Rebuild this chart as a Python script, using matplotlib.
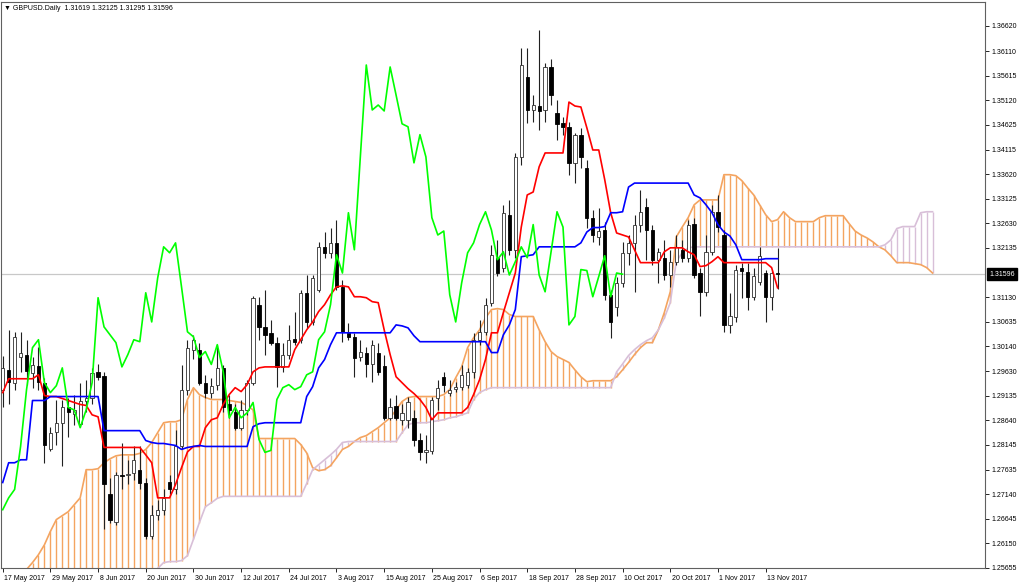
import matplotlib
matplotlib.use("Agg")
import matplotlib.pyplot as plt
import matplotlib.transforms as mtrans
import numpy as np

plt.rcParams['font.family'] = ['Liberation Sans', 'DejaVu Sans']

# ---------------- data ----------------
opens = [1.2926, 1.2966, 1.2940, 1.2993, 1.2997, 1.2960, 1.2973, 1.2940, 1.2805, 1.2841,
         1.2859, 1.2890, 1.2877, 1.2857, 1.2902, 1.2910, 1.2962, 1.2954, 1.2714, 1.2659,
         1.2754, 1.2754, 1.2758, 1.2764, 1.2738, 1.2629, 1.2673, 1.2683, 1.2740, 1.2724,
         1.2811, 1.2926, 1.3007, 1.3007, 1.2940, 1.2920, 1.2936, 1.2970, 1.2896, 1.2881,
         1.2849, 1.2885, 1.2940, 1.3098, 1.3053, 1.3041, 1.3021, 1.2972, 1.2997, 1.3029,
         1.3027, 1.3122, 1.3063, 1.3128, 1.3215, 1.3203, 1.3223, 1.3134, 1.3041, 1.3033,
         1.2993, 1.3001, 1.2977, 1.3001, 1.2973, 1.2869, 1.2892, 1.2865, 1.2865, 1.2869,
         1.2825, 1.2799, 1.2801, 1.2910, 1.2952, 1.2920, 1.2928, 1.2932, 1.2936, 1.2962,
         1.3027, 1.3043, 1.3102, 1.3193, 1.3173, 1.3280, 1.3209, 1.3397, 1.3559, 1.3492,
         1.3500, 1.3492, 1.3579, 1.3486, 1.3466, 1.3458, 1.3385, 1.3442, 1.3375, 1.3274,
         1.3235, 1.3249, 1.3118, 1.3094, 1.3142, 1.3203, 1.3223, 1.3260, 1.3296, 1.3249,
         1.3189, 1.3193, 1.3158, 1.3185, 1.3209, 1.3193, 1.3262, 1.3162, 1.3124, 1.3205,
         1.3286, 1.3239, 1.3057, 1.3072, 1.3173, 1.3165, 1.3114, 1.3144, 1.3162, 1.3114,
         1.31619]
highs = [1.2995, 1.3047, 1.3043, 1.3043, 1.3027, 1.2993, 1.3013, 1.2950, 1.2851, 1.2906,
         1.2906, 1.2910, 1.2916, 1.2940, 1.2946, 1.2970, 1.2978, 1.2962, 1.2748, 1.2760,
         1.2818, 1.2784, 1.2811, 1.2811, 1.2748, 1.2693, 1.2703, 1.2724, 1.2754, 1.2845,
         1.2976, 1.3027, 1.3037, 1.3021, 1.2956, 1.2950, 1.3017, 1.2976, 1.2916, 1.2896,
         1.2906, 1.2946, 1.3116, 1.3114, 1.3128, 1.3067, 1.3033, 1.3021, 1.3057, 1.3084,
         1.3128, 1.3158, 1.3158, 1.3225, 1.3245, 1.3253, 1.3270, 1.3148, 1.3061, 1.3041,
         1.3027, 1.3013, 1.3027, 1.3021, 1.2997, 1.2910, 1.2916, 1.2896, 1.2912, 1.2885,
         1.2839, 1.2835, 1.2912, 1.2946, 1.2962, 1.2946, 1.2942, 1.2976, 1.2970, 1.3041,
         1.3067, 1.3112, 1.3219, 1.3229, 1.3300, 1.3310, 1.3405, 1.3617, 1.3617, 1.3522,
         1.3654, 1.3587, 1.3595, 1.3512, 1.3478, 1.3468, 1.3446, 1.3456, 1.3391, 1.3290,
         1.3294, 1.3266, 1.3128, 1.3154, 1.3225, 1.3239, 1.3280, 1.3330, 1.3314, 1.3259,
         1.3213, 1.3229, 1.3209, 1.3239, 1.3229, 1.3270, 1.3274, 1.3172, 1.3239, 1.3300,
         1.3320, 1.3249, 1.3122, 1.3179, 1.3183, 1.3183, 1.3173, 1.3215, 1.3169, 1.3169,
         1.32125]
lows = [1.2890, 1.2896, 1.2926, 1.2962, 1.2936, 1.2930, 1.2926, 1.2778, 1.2801, 1.2813,
        1.2772, 1.2831, 1.2855, 1.2851, 1.2881, 1.2896, 1.2946, 1.2643, 1.2657, 1.2653,
        1.2724, 1.2734, 1.2744, 1.2724, 1.2623, 1.2623, 1.2663, 1.2673, 1.2714, 1.2714,
        1.2805, 1.2916, 1.2987, 1.2936, 1.2910, 1.2910, 1.2926, 1.2881, 1.2869, 1.2845,
        1.2845, 1.2875, 1.2936, 1.3027, 1.2997, 1.3017, 1.2932, 1.2962, 1.2987, 1.3017,
        1.3021, 1.3051, 1.3057, 1.3124, 1.3193, 1.3193, 1.3128, 1.3023, 1.3027, 1.2952,
        1.2983, 1.2952, 1.2942, 1.2956, 1.2865, 1.2865, 1.2865, 1.2855, 1.2849, 1.2811,
        1.2784, 1.2778, 1.2795, 1.2885, 1.2922, 1.2914, 1.2922, 1.2926, 1.2930, 1.2950,
        1.3017, 1.3037, 1.3096, 1.3156, 1.3165, 1.3199, 1.3193, 1.3381, 1.3466, 1.3468,
        1.3452, 1.3468, 1.3502, 1.3431, 1.3442, 1.3361, 1.3345, 1.3375, 1.3253, 1.3225,
        1.3219, 1.3108, 1.3031, 1.3074, 1.3134, 1.3179, 1.3124, 1.3245, 1.3189, 1.3179,
        1.3142, 1.3148, 1.3134, 1.3179, 1.3185, 1.3185, 1.3152, 1.3074, 1.3116, 1.3199,
        1.3245, 1.3043, 1.3041, 1.3063, 1.3112, 1.3088, 1.3108, 1.3138, 1.3063, 1.3088,
        1.31295]
closes = [1.2970, 1.2942, 1.3033, 1.3001, 1.2964, 1.2975, 1.2942, 1.2813, 1.2839, 1.2859,
          1.2890, 1.2881, 1.2885, 1.2902, 1.2910, 1.2960, 1.2952, 1.2734, 1.2663, 1.2754,
          1.2752, 1.2756, 1.2784, 1.2738, 1.2629, 1.2673, 1.2683, 1.2707, 1.2724, 1.2811,
          1.2926, 1.3011, 1.3027, 1.2940, 1.2920, 1.2934, 1.2970, 1.2890, 1.2885, 1.2849,
          1.2885, 1.2940, 1.3112, 1.3053, 1.3037, 1.3021, 1.2972, 1.2997, 1.3027, 1.3023,
          1.3122, 1.3063, 1.3152, 1.3215, 1.3203, 1.3223, 1.3134, 1.3043, 1.3033, 1.2991,
          1.3003, 1.2977, 1.3017, 1.2962, 1.2869, 1.2890, 1.2869, 1.2879, 1.2900, 1.2825,
          1.2799, 1.2803, 1.2906, 1.2930, 1.2936, 1.2926, 1.2932, 1.2956, 1.2962, 1.3027,
          1.3043, 1.3098, 1.3199, 1.3162, 1.3284, 1.3209, 1.3397, 1.3583, 1.3492, 1.3502,
          1.3490, 1.3579, 1.3522, 1.3464, 1.3458, 1.3385, 1.3442, 1.3397, 1.3274, 1.3239,
          1.3247, 1.3118, 1.3063, 1.3142, 1.3203, 1.3223, 1.3260, 1.3286, 1.3249, 1.3189,
          1.3205, 1.3158, 1.3185, 1.3215, 1.3193, 1.3260, 1.3158, 1.3124, 1.3205, 1.3286,
          1.3255, 1.3057, 1.3074, 1.3169, 1.3167, 1.3114, 1.3155, 1.3197, 1.3114, 1.3162,
          1.31596]

tenkan = [1.2920, 1.2948, 1.2948, 1.2948, 1.2948, 1.2948, 1.2956, 1.2914, 1.2912, 1.2912,
          1.2908, 1.2904, 1.2900, 1.2896, 1.2894, 1.2875, 1.2871, 1.2809, 1.2809, 1.2809,
          1.2809, 1.2809, 1.2809, 1.2809, 1.2794, 1.2778, 1.2707, 1.2707, 1.2707, 1.2734,
          1.2768, 1.2800, 1.2811, 1.2811, 1.2849, 1.2865, 1.2869, 1.2896, 1.2916, 1.2930,
          1.2922, 1.2936, 1.2962, 1.2970, 1.2972, 1.2972, 1.2972, 1.2972, 1.2972, 1.3007,
          1.3027, 1.3047, 1.3063, 1.3084, 1.3098, 1.3118, 1.3134, 1.3136, 1.3134, 1.3114,
          1.3114, 1.3112, 1.3104, 1.3102, 1.3047, 1.2997, 1.2952, 1.2940, 1.2928, 1.2918,
          1.2906, 1.2890, 1.2865, 1.2879, 1.2879, 1.2879, 1.2879, 1.2879, 1.2890, 1.2916,
          1.2946, 1.2987, 1.3041, 1.3041, 1.3082, 1.3122, 1.3162, 1.3255, 1.3320, 1.3326,
          1.3377, 1.3405, 1.3405, 1.3405, 1.3405, 1.3508, 1.3500, 1.3498, 1.3456, 1.3411,
          1.3411, 1.3351, 1.3284, 1.3243, 1.3239, 1.3235, 1.3209, 1.3183, 1.3183, 1.3183,
          1.3183, 1.3205, 1.3213, 1.3213, 1.3213, 1.3205, 1.3199, 1.3175, 1.3177, 1.3185,
          1.3195, 1.3183, 1.3183, 1.3183, 1.3183, 1.3183, 1.3183, 1.3183, 1.3183, 1.3173,
          1.3132]
kijun = [1.2738, 1.2778, 1.2778, 1.2784, 1.2784, 1.2904, 1.2904, 1.2904, 1.2912, 1.2912,
         1.2912, 1.2912, 1.2912, 1.2912, 1.2912, 1.2912, 1.2912, 1.2843, 1.2843, 1.2843,
         1.2843, 1.2843, 1.2843, 1.2843, 1.2823, 1.2819, 1.2817, 1.2817, 1.2815, 1.2813,
         1.2805, 1.2809, 1.2811, 1.2813, 1.2811, 1.2811, 1.2811, 1.2811, 1.2811, 1.2811,
         1.2811, 1.2811, 1.2851, 1.2857, 1.2859, 1.2859, 1.2859, 1.2859, 1.2859, 1.2859,
         1.2859, 1.2912, 1.2932, 1.2970, 1.2987, 1.3017, 1.3041, 1.3041, 1.3041, 1.3041,
         1.3041, 1.3041, 1.3041, 1.3041, 1.3041, 1.3041, 1.3057, 1.3055, 1.3051, 1.3035,
         1.3023, 1.3023, 1.3023, 1.3023, 1.3023, 1.3023, 1.3023, 1.3023, 1.3023, 1.3023,
         1.3023, 1.3023, 1.3001, 1.3001, 1.3037, 1.3057, 1.3088, 1.3195, 1.3197, 1.3199,
         1.3215, 1.3215, 1.3215, 1.3215, 1.3215, 1.3215, 1.3215, 1.3223, 1.3245, 1.3254,
         1.3254, 1.3256, 1.3284, 1.3284, 1.3286, 1.3336, 1.3344, 1.3344, 1.3344, 1.3344,
         1.3344, 1.3344, 1.3344, 1.3344, 1.3344, 1.3344, 1.3320, 1.3314, 1.3300, 1.3284,
         1.3260, 1.3245, 1.3237, 1.3219, 1.3189, 1.3189, 1.3189, 1.3189, 1.3191, 1.3191,
         1.3191]
senkou_a = [1.2501, 1.2511, 1.2526, 1.2542, 1.2562, 1.2576, 1.2592, 1.2612, 1.2639, 1.2663,
            1.2671, 1.2679, 1.2693, 1.2707, 1.2764, 1.2764, 1.2766, 1.2778, 1.2786, 1.2792,
            1.2794, 1.2794, 1.2794, 1.2797, 1.2805, 1.2819, 1.2839, 1.2859, 1.2861, 1.2861,
            1.2865, 1.2906, 1.2930, 1.2916, 1.2910, 1.2906, 1.2906, 1.2906, 1.2904, 1.2902,
            1.2900, 1.2894, 1.2885, 1.2827, 1.2827, 1.2827, 1.2827, 1.2827, 1.2827, 1.2827,
            1.2815, 1.2798, 1.2768, 1.2762, 1.2764, 1.2772, 1.2788, 1.2805, 1.2811, 1.2821,
            1.2829, 1.2833, 1.2841, 1.2849, 1.2859, 1.2869, 1.2885, 1.2902, 1.2910, 1.2912,
            1.2912, 1.2912, 1.2912, 1.2912, 1.2916, 1.2926, 1.2950, 1.2972, 1.3011, 1.3031,
            1.3047, 1.3071, 1.3088, 1.3090, 1.3088, 1.3078, 1.3074, 1.3074, 1.3074, 1.3074,
            1.3047, 1.3023, 1.3003, 1.2993, 1.2987, 1.2981, 1.2966, 1.2952, 1.2942, 1.2944,
            1.2944, 1.2944, 1.2944, 1.2952, 1.2966, 1.2981, 1.2997, 1.3011, 1.3021, 1.3021,
            1.3047, 1.3082, 1.3124, 1.3235, 1.3255, 1.3274, 1.3300, 1.3310, 1.3310, 1.3310,
            1.3310, 1.3361, 1.3361, 1.3359, 1.3349, 1.3334, 1.3320, 1.3300, 1.3280, 1.3266,
            1.3270, 1.3286, 1.3274, 1.3266, 1.3266, 1.3266, 1.3266, 1.3274, 1.3278, 1.3278,
            1.3278, 1.3278, 1.3262, 1.3247, 1.3239, 1.3233, 1.3225, 1.3215, 1.3209, 1.3197,
            1.3183, 1.3183, 1.3183, 1.3181, 1.3179, 1.3173, 1.3162]
senkou_b = [1.2532, 1.2532, 1.2532, 1.2532, 1.2532, 1.2532, 1.2532, 1.2532, 1.2532, 1.2532,
            1.2532, 1.2532, 1.2532, 1.2532, 1.2532, 1.2532, 1.2532, 1.2532, 1.2532, 1.2532,
            1.2532, 1.2532, 1.2532, 1.2532, 1.2532, 1.2532, 1.2564, 1.2576, 1.2578, 1.2578,
            1.2580, 1.2590, 1.2623, 1.2657, 1.2689, 1.2697, 1.2706, 1.2710, 1.2710, 1.2710,
            1.2710, 1.2710, 1.2710, 1.2710, 1.2710, 1.2710, 1.2710, 1.2710, 1.2710, 1.2710,
            1.2710, 1.2736, 1.2764, 1.2774, 1.2784, 1.2794, 1.2805, 1.2819, 1.2821, 1.2821,
            1.2821, 1.2821, 1.2821, 1.2821, 1.2821, 1.2821, 1.2821, 1.2839, 1.2855, 1.2859,
            1.2859, 1.2859, 1.2861, 1.2863, 1.2865, 1.2869, 1.2871, 1.2875, 1.2879, 1.2906,
            1.2920, 1.2926, 1.2930, 1.2930, 1.2930, 1.2930, 1.2930, 1.2930, 1.2930, 1.2930,
            1.2930, 1.2930, 1.2930, 1.2930, 1.2930, 1.2930, 1.2930, 1.2930, 1.2930, 1.2930,
            1.2930, 1.2930, 1.2930, 1.2962, 1.2978, 1.2995, 1.3007, 1.3017, 1.3025, 1.3031,
            1.3047, 1.3071, 1.3102, 1.3185, 1.3203, 1.3213, 1.3215, 1.3215, 1.3215, 1.3215,
            1.3215, 1.3215, 1.3215, 1.3215, 1.3215, 1.3215, 1.3215, 1.3215, 1.3215, 1.3215,
            1.3215, 1.3215, 1.3215, 1.3215, 1.3215, 1.3215, 1.3215, 1.3215, 1.3215, 1.3215,
            1.3215, 1.3215, 1.3215, 1.3215, 1.3215, 1.3215, 1.3215, 1.3215, 1.3219, 1.3229,
            1.3252, 1.3256, 1.3256, 1.3256, 1.3284, 1.3286, 1.3286]

date_labels = ["17 May 2017", "29 May 2017", "8 Jun 2017", "20 Jun 2017", "30 Jun 2017",
               "12 Jul 2017", "24 Jul 2017", "3 Aug 2017", "15 Aug 2017", "25 Aug 2017",
               "6 Sep 2017", "18 Sep 2017", "28 Sep 2017", "10 Oct 2017", "20 Oct 2017",
               "1 Nov 2017", "13 Nov 2017"]
date_bars = [0, 8, 16, 24, 32, 40, 48, 56, 64, 72, 80, 88, 96, 104, 112, 120, 128]
price_ticks = [1.36620, 1.36110, 1.35615, 1.35120, 1.34625, 1.34115, 1.33620, 1.33125,
               1.32630, 1.32135, 1.31130, 1.30635, 1.30140, 1.29630, 1.29135, 1.28640,
               1.28145, 1.27635, 1.27140, 1.26645, 1.26150, 1.25655]
last_price = 1.31596
title = "GBPUSD.Daily  1.31619 1.32125 1.31295 1.31596"
chikou_shift = 26

# ---------------- figure ----------------
W, H = 1024, 585
fig = plt.figure(figsize=(W / 100, H / 100), dpi=100)
fig.patch.set_facecolor('white')
ax = fig.add_axes([1 / W, 1 - 568 / H, 984 / W, 566 / H])
ax.set_facecolor('white')

n = len(closes)
x = np.arange(n)
xa = np.arange(len(senkou_a))
sa = np.array(senkou_a)
sb = np.array(senkou_b)

# cloud hatching
up = sa >= sb
ax.vlines(xa[up], sb[up], sa[up], color='#F4A460', lw=1.0, zorder=1)
ax.vlines(xa[~up], sa[~up], sb[~up], color='#D8BFD8', lw=1.0, zorder=1)
ax.plot(xa, sa, color='#F4A460', lw=1.2, zorder=2)
ax.plot(xa, sb, color='#D8BFD8', lw=1.2, zorder=2)

# current price line
ax.axhline(last_price, color='#C8C8C8', lw=0.9, zorder=0.5)

# candles
o = np.array(opens); c = np.array(closes); hi = np.array(highs); lo = np.array(lows)
bull = c >= o
ax.vlines(x, lo, hi, color='#202020', lw=0.8, zorder=3)
body_h = np.maximum(np.abs(c - o), 0.00006)
ax.bar(x[bull], body_h[bull], bottom=np.minimum(o, c)[bull], width=0.55,
       facecolor='white', edgecolor='#303030', lw=0.6, zorder=4)
ax.bar(x[~bull], body_h[~bull], bottom=np.minimum(o, c)[~bull], width=0.55,
       facecolor='black', edgecolor='black', lw=0.6, zorder=4)

# Ichimoku lines
ax.plot(x, tenkan, color='#FF0000', lw=1.2, zorder=5)
ax.plot(x, kijun, color='#0000FF', lw=1.2, zorder=5)
ax.plot(x[:n - chikou_shift], c[chikou_shift:], color='#00FF00', lw=1.2, zorder=5)

# axes limits / frame
ax.set_xlim(-0.285, 164.8)
ax.set_ylim(1.25650, 1.37105)
for s in ax.spines.values():
    s.set_color('#606060')
    s.set_linewidth(0.8)

ax.yaxis.tick_right()
ax.set_yticks(price_ticks)
ax.set_yticklabels([f"{v:.5f}" for v in price_ticks])
ax.tick_params(axis='y', direction='out', length=3, width=0.6, pad=2,
               labelsize=5, colors='black')
ax.set_xticks(date_bars)
ax.set_xticklabels(date_labels)
ax.tick_params(axis='x', direction='out', length=3, width=0.6, pad=2,
               labelsize=5, colors='black')
offset = mtrans.ScaledTranslation(1.5 / 100, 0, fig.dpi_scale_trans)
for lab in ax.get_xticklabels():
    lab.set_horizontalalignment('left')
    lab.set_transform(lab.get_transform() + offset)

# current price label
tr = mtrans.blended_transform_factory(ax.transAxes, ax.transData)
ax.text(1.0045, last_price, f"{last_price:.5f}", transform=tr, fontsize=5,
        color='white', va='center', ha='left', zorder=10,
        bbox=dict(boxstyle='square,pad=0.35', facecolor='black', edgecolor='black'))

# title
fig.text(4 / W, 1 - 9 / H, "\u25BC " + title, fontsize=5, va='center', ha='left',
         color='black')

fig.savefig('out.png', dpi=100, facecolor='white')
